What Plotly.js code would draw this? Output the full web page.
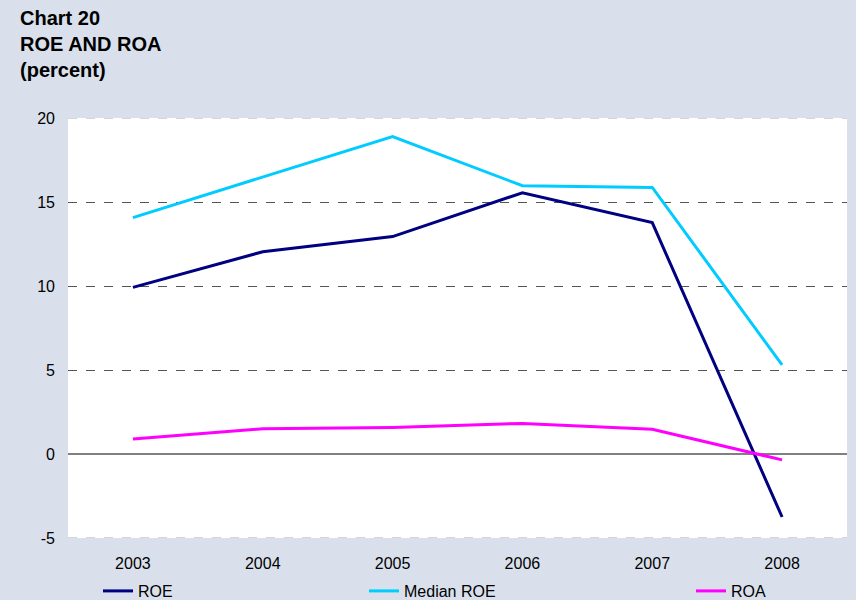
<!DOCTYPE html>
<html>
<head>
<meta charset="utf-8">
<script src="https://cdn.plot.ly/plotly-3.0.1.min.js"></script>
<style>html,body{margin:0;padding:0;background:#d9e0ec;}#chart{width:856px;height:600px;}</style>
</head>
<body>
<div id="chart"></div>
<script>
const years = ['2003', '2004', '2005', '2006', '2007', '2008'];
const roe = [9.92, 12.04, 12.94, 15.55, 13.77, -3.75];
const medianRoe = [14.07, 16.5, 18.9, 15.97, 15.87, 5.3];
const roa = [0.89, 1.5, 1.58, 1.82, 1.47, -0.35];
const yTicks = [-5, 0, 5, 10, 15, 20];
const titleLines = ['Chart 20', 'ROE AND ROA', '(percent)'];

const font = {family: 'Liberation Sans, Arial, sans-serif', size: 16, color: '#000'};

const traces = [
  {x: years, y: roe, name: 'ROE', type: 'scatter', mode: 'lines', line: {color: '#000080', width: 3}, legend: 'legend'},
  {x: years, y: medianRoe, name: 'Median ROE', type: 'scatter', mode: 'lines', line: {color: '#00ccff', width: 3}, legend: 'legend2'},
  {x: years, y: roa, name: 'ROA', type: 'scatter', mode: 'lines', line: {color: '#ff00ff', width: 3}, legend: 'legend3'}
];

const legendBase = {orientation: 'h', xref: 'container', yref: 'container', yanchor: 'middle', y: 1 - 591/600, bgcolor: 'rgba(0,0,0,0)', font: font, itemwidth: 30, tracegroupgap: 0};

const edgeLine = (yv) => ({type: 'line', xref: 'paper', x0: 0, x1: 1, yref: 'y', y0: yv, y1: yv, line: {color: '#c8c8c8', width: 1.5, dash: 'dash'}, layer: 'above'});

const layout = {
  width: 856, height: 600,
  paper_bgcolor: '#d9e0ec', plot_bgcolor: '#ffffff',
  margin: {l: 68, r: 9, t: 118, b: 62},
  font: font,
  annotations: [{
    text: '<b>' + titleLines.join('<br>') + '</b>',
    xref: 'paper', yref: 'paper', x: -50/779, y: (538 - 5)/420, xanchor: 'left', yanchor: 'top', align: 'left', showarrow: false,
    font: {family: 'Liberation Sans, Arial, sans-serif', size: 20, color: '#000'}
  }],
  shapes: [edgeLine(20), edgeLine(-5)],
  xaxis: {type: 'category', range: [-0.5, 5.5], showgrid: false, zeroline: false, showline: false, ticks: '', tickfont: font, ticklabelstandoff: 14},
  yaxis: {range: [-5, 20], tickvals: yTicks, ticktext: yTicks.map(String), showgrid: true, gridcolor: '#555555', griddash: 'dash', gridwidth: 1, zeroline: true, zerolinecolor: '#808080', zerolinewidth: 2, showline: false, ticks: '', tickfont: font, ticklabelstandoff: 12},
  showlegend: true,
  legend: Object.assign({}, legendBase, {x: 98/856}),
  legend2: Object.assign({}, legendBase, {x: 364/856}),
  legend3: Object.assign({}, legendBase, {x: 691/856})
};

Plotly.newPlot('chart', traces, layout, {displayModeBar: false, staticPlot: true});
</script>
</body>
</html>
